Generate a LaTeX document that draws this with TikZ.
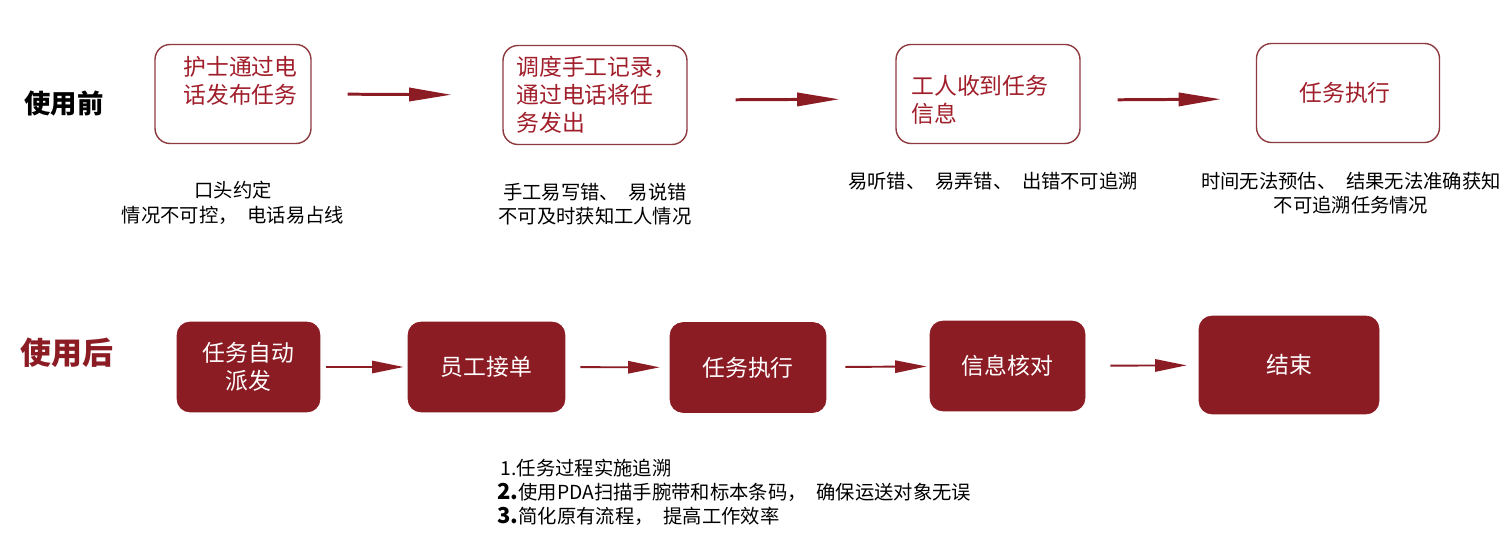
\documentclass[tikz,border=0pt]{standalone}
\usepackage{fontspec}
\setmainfont{Noto Sans CJK SC}
\usetikzlibrary{arrows.meta}
\definecolor{darkred}{HTML}{8C1C24}
\definecolor{boxred}{HTML}{A01E2A}
\definecolor{edgered}{HTML}{8E3B40}

\begin{document}
\begin{tikzpicture}[x=0.02cm, y=-0.02cm,
      obox/.style={draw=edgered, line width=0.8pt, rounded corners=0.3cm,
          minimum height=1.98cm},
      fbox/.style={draw=darkred, fill=darkred, rounded corners=0.26cm,
          minimum height=1.8cm, text=white, align=center,
          font=\fontsize{13}{16}\selectfont},
      rtext/.style={text=boxred, align=left, inner sep=0pt,
          font=\fontsize{13}{16}\selectfont},
      note/.style={align=center, inner sep=0pt,
          font=\fontsize{11}{14}\selectfont},
      arr/.style={-{Triangle[length=24pt,width=7.5pt]}, draw=darkred,
          line width=1.7pt},
      sarr/.style={-{Triangle[length=18pt,width=7pt]}, draw=darkred,
          line width=1.1pt}]
    \useasboundingbox (0,0) rectangle (1507,543);

    % before
    \node[font=\bfseries\fontsize{15}{18}\selectfont] (before) at (64,104) {使用前};
    \node[obox, minimum width=3.12cm] (b1) at (233,94) {};
    \node[obox, minimum width=3.68cm] (b2) at (595,95) {};
    \node[obox, minimum width=3.68cm] (b3) at (988,94) {};
    \node[obox, minimum width=3.66cm] (b4) at (1348,93) {};
    \node[rtext, anchor=west] (t1) at (183,81) {护士通过电\\话发布任务};
    \node[rtext, anchor=west] (t2) at (516,95) {调度手工记录，\\通过电话将任\\务发出};
    \node[rtext, anchor=west] (t3) at (911,100) {工人收到任务\\信息};
    \node[rtext] (t4) at (1345,93) {任务执行};
    \draw[arr, shorten <=0.72cm, shorten >=1.02cm] (b1.east) -- (b2.west);
    \draw[arr, shorten <=0.96cm, shorten >=1.12cm] ([yshift=-0.1cm]b2.east) -- ([yshift=-0.1cm]b3.west);
    \draw[arr, shorten <=0.74cm, shorten >=0.7cm] ([yshift=-0.12cm]b3.east) -- ([yshift=-0.12cm]b4.west);

    \node[note] (n1) at (233,203) {口头约定\\情况不可控，\hspace{0.5em}电话易占线};
    \node[note] (n2) at (595,204) {手工易写错、\hspace{0.5em}易说错\\不可及时获知工人情况};
    \node[note] (n3) at (993,181) {易听错、\hspace{0.5em}易弄错、\hspace{0.5em}出错不可追溯};
    \node[note] (n4) at (1351,193) {时间无法预估、\hspace{0.5em}结果无法准确获知\\不可追溯任务情况};

    % after
    \node[text=darkred, font=\bfseries\fontsize{17.6}{20}\selectfont] (after) at (67,353) {使用后};
    \node[fbox, minimum width=2.86cm] (a1) at (248.5,367) {任务自动\\派发};
    \node[fbox, minimum width=3.14cm] (a2) at (486.5,367) {员工接单};
    \node[fbox, minimum width=3.12cm] (a3) at (748,367.5) {任务执行};
    \node[fbox, minimum width=3.1cm] (a4) at (1007.5,366) {信息核对};
    \node[fbox, minimum width=3.6cm, minimum height=1.96cm] (a5) at (1289,365) {结束};
    \draw[sarr, shorten <=0.12cm, shorten >=0.08cm] (a1) -- (a2);
    \draw[sarr, shorten <=0.3cm, shorten >=0.2cm] (a2) -- (a3);
    \draw[sarr, shorten <=0.38cm, shorten >=0.06cm] (a3) -- (a4);
    \draw[sarr, shorten <=0.5cm, shorten >=0.24cm] (a4) -- (a5);

    \node[note, align=left, anchor=north west, font=\fontsize{11}{13.6}\selectfont]
        (gains) at (497,459)
        {\hspace{2pt}1.任务过程实施追溯\\{\fontsize{12.5}{13.6}\selectfont\bfseries 2.}使用PDA扫描手腕带和标本条码，\hspace{0.5em}确保运送对象无误\\{\fontsize{12.5}{13.6}\selectfont\bfseries 3.}简化原有流程，\hspace{0.5em}提高工作效率};
  \end{tikzpicture}
\end{document}
